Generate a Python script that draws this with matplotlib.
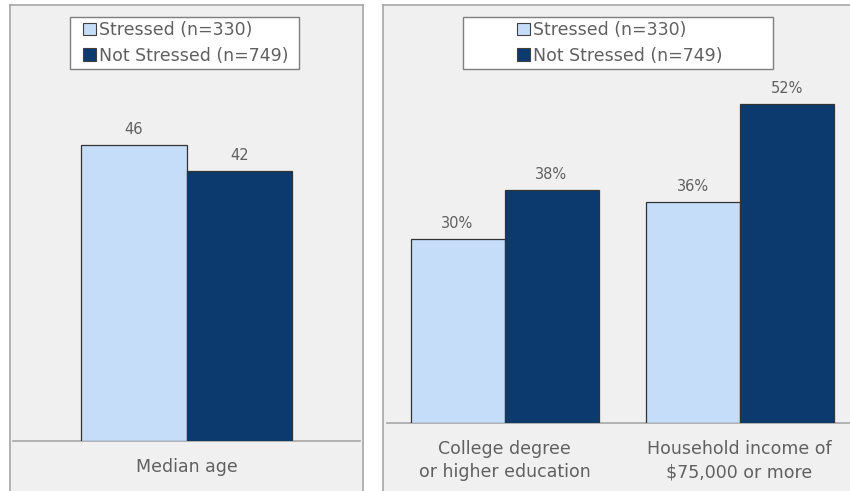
import matplotlib
matplotlib.use("Agg")
import matplotlib.pyplot as plt
from matplotlib.patches import Rectangle, Patch
import numpy as np

series = ["Stressed (n=330)", "Not Stressed (n=749)"]
left_categories = ["Median age"]
left_stressed = [46]
left_not_stressed = [42]
right_categories = ["College degree\nor higher education", "Household income of\n$75,000 or more"]
right_stressed = [30, 36]
right_not_stressed = [38, 52]

c_light = "#C5DDF8"
c_dark = "#0D3A6E"
bg = "#F0F0F0"
border = "#A6A6A6"
txt = "#606060"

W, H = 850, 491
fig = plt.figure(figsize=(W/100, H/100), dpi=100, facecolor="white")

def fx(px): return px / W
def fy(py): return 1 - py / H

def panel(x0, x1):
    ax = fig.add_axes([fx(x0), fy(H + 10), fx(x1) - fx(x0), fy(5) - fy(H + 10)])
    ax.set_facecolor(bg)
    ax.set_xticks([]); ax.set_yticks([])
    for s in ax.spines.values():
        s.set_color(border); s.set_linewidth(1.2)
    return ax

def legend_box(pax, x0, x1, y0, y1, cx):
    pax.add_patch(Rectangle((fx(x0), fy(y1)), fx(x1) - fx(x0), fy(y0) - fy(y1),
                            transform=fig.transFigure, facecolor="white",
                            edgecolor="#7F7F7F", linewidth=1.0, zorder=5))
    handles = [Patch(facecolor=c_light, edgecolor="#404040", linewidth=0.8),
               Patch(facecolor=c_dark, edgecolor="#404040", linewidth=0.8)]
    leg = fig.legend(handles, series, loc="center", bbox_to_anchor=(fx(cx), fy((y0 + y1) / 2)),
                     frameon=False, fontsize=12.5, handlelength=0.75, handleheight=0.75,
                     handletextpad=0.2, labelspacing=0.45, labelcolor=txt, borderpad=0)
    leg.set_zorder(6)

def draw(ax, cats, s1, s2, width, ymax, fmt):
    x = np.arange(len(cats))
    b1 = ax.bar(x - width / 2, s1, width, color=c_light, edgecolor="#333333", linewidth=0.9, zorder=3)
    b2 = ax.bar(x + width / 2, s2, width, color=c_dark, edgecolor="#333333", linewidth=0.9, zorder=3)
    for bars, vals in ((b1, s1), (b2, s2)):
        for r, v in zip(bars, vals):
            ax.annotate(fmt.format(v), (r.get_x() + r.get_width() / 2, v), xytext=(0, 6),
                        textcoords="offset points", ha="center", va="bottom",
                        fontsize=10.5, color=txt)
    ax.set_xlim(-0.5, len(cats) - 0.5)
    ax.set_ylim(0, ymax)
    ax.set_facecolor("none")
    for k in ("top", "left", "right"):
        ax.spines[k].set_visible(False)
    ax.spines["bottom"].set_color(border)
    ax.spines["bottom"].set_linewidth(1.2)
    ax.set_yticks([])
    ax.set_xticks(x)
    ax.set_xticklabels(cats, fontsize=12.5, color=txt, linespacing=1.4)
    ax.tick_params(axis="x", length=0, pad=12)

# Left panel
pl = panel(10, 363)
legend_box(pl, 70, 299, 17, 69, 186)
axl = fig.add_axes([fx(13), fy(441), fx(360) - fx(13), fy(441 - 60 * 6.43) - fy(441)])
draw(axl, left_categories, left_stressed, left_not_stressed, 211 / 347 / 2, 60, "{}")

# Right panel
pr = panel(383, 860)
legend_box(pr, 463, 773, 17, 69, 620)
axr = fig.add_axes([fx(387), fy(423), fx(857) - fx(387), fy(423 - 60 * 6.13) - fy(423)])
draw(axr, right_categories, right_stressed, right_not_stressed, 0.4, 60, "{}%")

fig.savefig("out.png", dpi=100, facecolor="white")
